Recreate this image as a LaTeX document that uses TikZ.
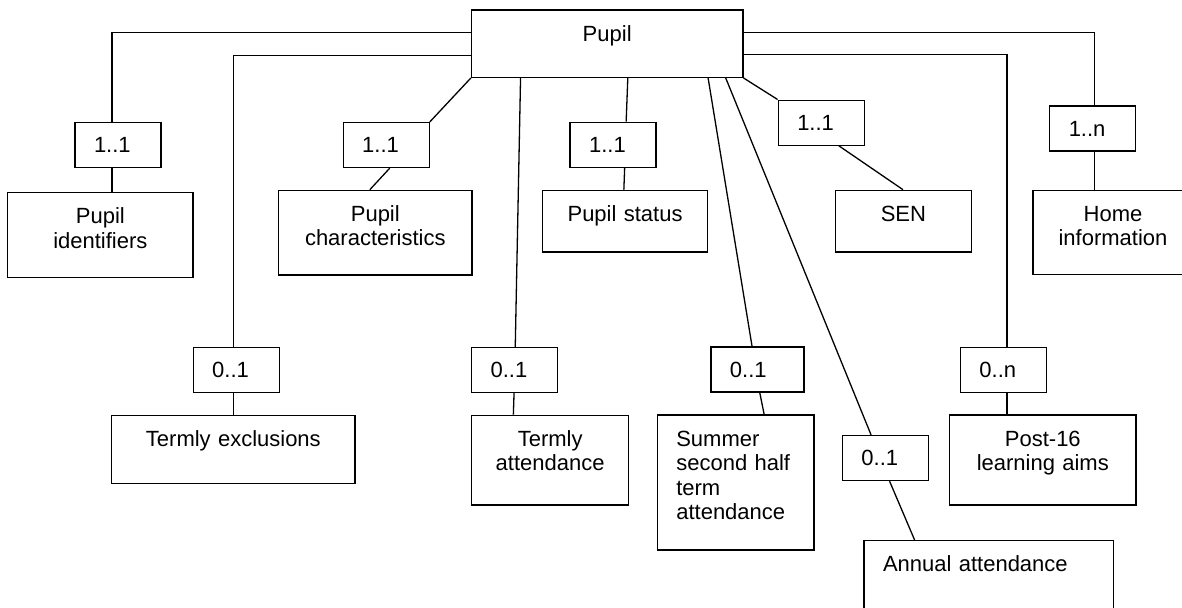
\documentclass[tikz,border=0pt]{standalone}
\usepackage{fontspec}
\setmainfont{Liberation Sans}
\usepackage{tikz}
\usetikzlibrary{calc}

\begin{document}
\begin{tikzpicture}[x=0.5pt, y=-0.5pt, line width=0.65pt,
    every node/.style={font=\fontsize{11pt}{12.3pt}\selectfont},
    ent/.style 2 args={draw, align=center, text width=#1, inner xsep=0pt, inner ysep=0pt,
        text height=15.5pt, text depth=#2},
    entl/.style 2 args={draw, align=left, text width=#1, inner xsep=9.5pt, inner ysep=0pt,
        text height=15.5pt, text depth=#2},
    mult/.style={draw, align=left, text width=#1, inner xsep=9.5pt, minimum height=22.5pt},
    mult/.default=24pt]
    \useasboundingbox (0,0) rectangle (1182,607);
    \node[ent={135.65pt}{18.15pt}] (pupil) at (607.2,43.65) {Pupil};

    \node[mult] (m1) at (118,145) {1..1};
    \node[mult] (m2) at (236.2,369.8) {0..1};
    \node[mult] (m3) at (386.2,145) {1..1};
    \node[mult] (m4) at (514.55,369.9) {0..1};
    \node[mult] (m5) at (613.1,144.8) {1..1};
    \node[mult=27.5pt] (m6) at (757.4,369.5) {0..1};
    \node[mult] (m7) at (885.4,458) {0..1};
    \node[mult] (m8) at (821.25,122.65) {1..1};
    \node[mult] (m9) at (1003.4,369.8) {0..n};
    \node[mult] (m10) at (1092.75,128.5) {1..n};

    \node[ent={92.65pt}{26.8pt}] (ident) at (100.35,235) {Pupil\\identifiers};
    \node[ent={121.65pt}{18.3pt}] (excl) at (233.35,449.5) {Termly exclusions};
    \node[ent={96.7pt}{26.85pt}] (charac) at (375.3,232.65) {Pupil\\characteristics};
    \node[ent={78.65pt}{29.35pt}] (tatt) at (550.15,460.15) {Termly\\attendance};
    \node[ent={82.35pt}{15.35pt}] (status) at (625.05,221.15) {Pupil status};
    \node[entl={59.35pt}{52pt}] (summer) at (735.65,482.5) {Summer\\second half\\term\\attendance};
    \node[entl={105.9pt}{34.5pt}] (annual) at (988.9,590.5) {Annual attendance};
    \node[ent={68.1pt}{15.35pt}] (sen) at (903.4,221.15) {SEN};
    \node[ent={93.1pt}{29.5pt}] (post) at (1042.8,460) {Post-16\\learning aims};
    \node[ent={80pt}{26.5pt}] (home) at (1113,232.3) {Home\\information};

    \coordinate (bA) at (112.1,32.7);
    \coordinate (bB) at (233.8,55.3);
    \coordinate (bC) at (1006.9,54.7);
    \coordinate (bD) at (1094.4,32.7);

    \draw (pupil.west |- bA) -| (m1.north -| bA);
    \draw (m1.south -| bA) -- (ident.north -| bA);
    \draw (pupil.west |- bB) -| (m2.north -| bB);
    \draw (m2.south -| bB) -- (excl.north -| bB);
    \draw (pupil.east |- bC) -| (m9.north -| bC);
    \draw (m9.south -| bC) -- (post.north -| bC);
    \draw (pupil.east |- bD) -| (m10.north -| bD);
    \draw (m10.south -| bD) -- (home.north -| bD);

    \draw (pupil.south west) -- (m3.north east);
    \draw ($(m3.south west)+(47.2,0)$) -- ($(charac.north west)+(91.9,0)$);
    \draw ($(pupil.south west)+(49.65,0)$) -- ($(m4.north west)+(44.35,0)$);
    \draw ($(m4.south west)+(43.15,0)$) -- ($(tatt.north west)+(42.5,0)$);
    \draw ($(pupil.south west)+(156.9,0)$) -- ($(m5.north west)+(56.7,0)$);
    \draw ($(m5.south west)+(55.2,0)$) -- ($(status.north west)+(81.8,0)$);
    \draw ($(pupil.south east)+(-35.4,0)$) -- ($(m6.north west)+(41.8,0)$);
    \draw ($(m6.south west)+(49.5,0)$) -- ($(summer.north west)+(107.5,0)$);
    \draw ($(pupil.south east)+(-17.8,0)$) -- ($(m7.north west)+(29.3,0)$);
    \draw ($(m7.south west)+(47.8,0)$) -- ($(annual.north west)+(51.2,0)$);
    \draw (pupil.south east) -- (m8.north west);
    \draw ($(m8.south west)+(61.25,0)$) -- ($(sen.north west)+(68.3,0)$);
\end{tikzpicture}
\end{document}
